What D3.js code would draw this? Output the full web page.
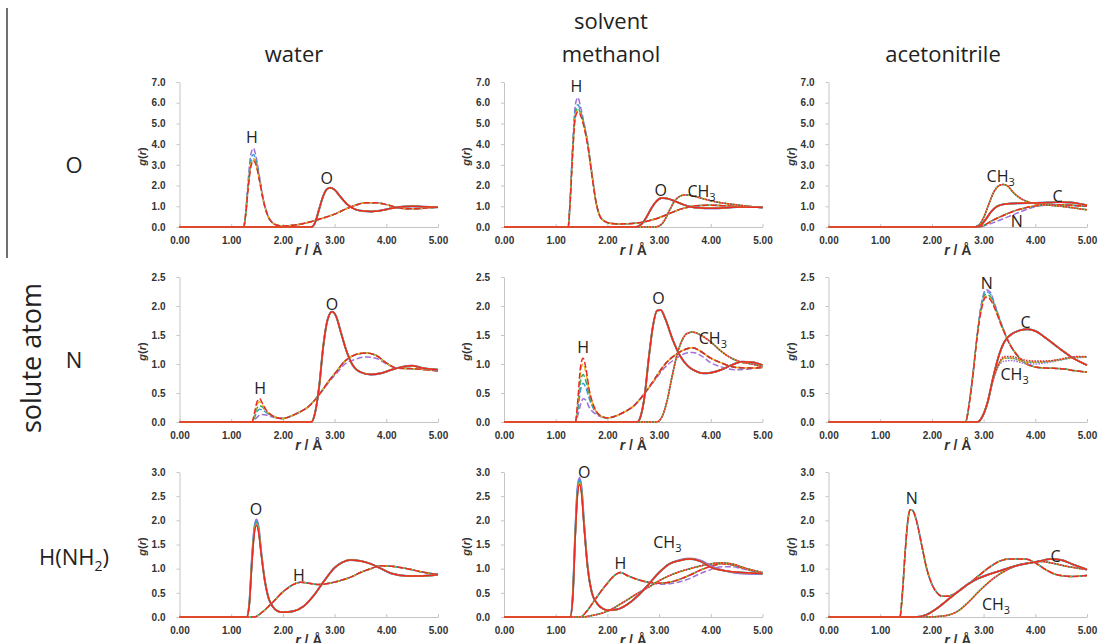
<!DOCTYPE html>
<html>
<head>
<meta charset="utf-8">
<script src="https://cdn.jsdelivr.net/npm/d3@7"></script>
<style>
  body { margin: 0; background: #fff; }
  svg { display: block; font-family: "Liberation Sans", Arial, sans-serif; }
  .axis .domain { stroke: #c4c4c4; }
  .axis .tick line { stroke: #c4c4c4; }
  .axis .tick text { font-size: 10px; font-weight: bold; fill: #333; }
  .big { font-family: "Open Sans", "Liberation Sans", sans-serif; font-size: 22px; fill: #222; }
  .note { font-family: "Open Sans", "Liberation Sans", sans-serif; font-size: 16px; fill: #222; }
</style>
</head>
<body>
<div id="chart"></div>
<script>
// column / row headings
var solvents = ["water", "methanol", "acetonitrile"];
var soluteAtoms = ["O", "N", "H(NH2)"];
var yMaxByRow = [7, 2.5, 3];
var yStepByRow = [1, 0.5, 0.5];
var xTicks = [0, 1, 2, 3, 4, 5];

// line colours: purple, blue, green, yellow, red (red is drawn on top)
var colors = ["#a070d8", "#3b9bdc", "#31a85e", "#f2b21b", "#e8282a"];

// ---- solute O / water ----
var rOwH = [0,1.24,1.28,1.33,1.38,1.43,1.48,1.55,1.62,1.70,1.80,1.92,2.05,2.2,2.4,2.6,2.8,3.0,3.2,3.4,3.6,3.8,4.0,4.2,4.4,4.6,4.8,5.0];
var gOwH = [
  [0,0,0.7,2.3,3.5,3.8,3.4,2.4,1.35,0.6,0.2,0.07,0.05,0.08,0.17,0.3,0.45,0.62,0.85,1.05,1.17,1.17,1.08,0.95,0.88,0.88,0.93,0.95],
  [0,0,0.65,2.1,3.25,3.5,3.2,2.3,1.3,0.6,0.2,0.07,0.05,0.08,0.17,0.3,0.45,0.62,0.85,1.05,1.17,1.17,1.08,0.95,0.88,0.88,0.93,0.95],
  [0,0,0.6,2.0,3.05,3.3,3.1,2.25,1.3,0.6,0.2,0.07,0.05,0.08,0.17,0.3,0.45,0.62,0.85,1.05,1.17,1.17,1.08,0.95,0.88,0.88,0.93,0.95],
  [0,0,0.6,1.95,3.0,3.28,3.05,2.2,1.3,0.6,0.2,0.07,0.05,0.08,0.17,0.3,0.45,0.62,0.85,1.05,1.17,1.17,1.08,0.95,0.88,0.88,0.93,0.95],
  [0,0,0.6,1.9,2.9,3.2,3.0,2.2,1.3,0.6,0.2,0.07,0.05,0.08,0.17,0.3,0.45,0.62,0.85,1.05,1.17,1.17,1.08,0.95,0.88,0.88,0.93,0.95]
];
var rOwO = [0,2.55,2.62,2.7,2.78,2.85,2.92,3.0,3.1,3.25,3.4,3.55,3.7,3.9,4.1,4.3,4.5,4.7,5.0];
var gOwO = [[0,0,0.2,0.85,1.5,1.82,1.9,1.8,1.5,1.08,0.85,0.77,0.75,0.8,0.9,0.98,1.0,0.98,0.95]];

// ---- solute O / methanol ----
var rOmH = [0,1.24,1.28,1.33,1.38,1.43,1.48,1.55,1.62,1.70,1.78,1.86,1.95,2.05,2.2,2.4,2.6,2.8,3.0,3.2,3.4,3.6,3.8,4.0,4.3,4.6,5.0];
var gOmH = [
  [0,0,1.4,4.0,5.9,6.25,5.8,5.0,4.05,2.6,1.2,0.5,0.27,0.18,0.15,0.16,0.2,0.3,0.45,0.65,0.85,0.98,1.04,1.05,1.02,0.98,0.95],
  [0,0,1.35,3.9,5.6,5.9,5.6,4.95,4.05,2.6,1.2,0.5,0.27,0.18,0.15,0.16,0.2,0.3,0.45,0.65,0.85,0.98,1.04,1.05,1.02,0.98,0.95],
  [0,0,1.3,3.8,5.45,5.72,5.5,4.9,4.0,2.55,1.2,0.5,0.27,0.18,0.15,0.16,0.2,0.3,0.45,0.65,0.85,0.98,1.04,1.05,1.02,0.98,0.95],
  [0,0,1.25,3.7,5.4,5.62,5.45,4.85,3.95,2.55,1.2,0.5,0.27,0.18,0.15,0.16,0.2,0.3,0.45,0.65,0.85,0.98,1.04,1.05,1.02,0.98,0.95],
  [0,0,1.2,3.6,5.3,5.55,5.4,4.8,3.9,2.5,1.2,0.5,0.27,0.18,0.15,0.16,0.2,0.3,0.45,0.65,0.85,0.98,1.04,1.05,1.02,0.98,0.95]
];
var rOmO = [0,2.55,2.65,2.75,2.85,2.95,3.05,3.15,3.3,3.45,3.6,3.8,4.0,4.3,4.6,5.0];
var gOmO = [[0,0,0.12,0.45,0.9,1.25,1.4,1.38,1.25,1.1,0.98,0.92,0.9,0.93,0.97,0.95]];
var rOmC = [0,2.9,3.0,3.1,3.2,3.3,3.4,3.5,3.6,3.8,4.0,4.2,4.5,4.8,5.0];
var gOmC = [[0,0,0.05,0.3,0.8,1.25,1.48,1.55,1.53,1.4,1.27,1.17,1.07,0.98,0.93]];

// ---- solute O / acetonitrile ----
var rOaC3 = [0,2.8,2.9,3.0,3.1,3.2,3.3,3.38,3.45,3.6,3.8,4.0,4.2,4.5,4.8,5.0];
var gOaC3 = [[0,0,0.08,0.45,1.1,1.7,2.0,2.05,2.0,1.6,1.27,1.13,1.07,1.0,0.9,0.83]];
var rOaC = [0,2.85,2.95,3.05,3.15,3.25,3.35,3.5,3.7,4.0,4.3,4.5,4.7,4.9,5.0];
var gOaC = [[0,0,0.1,0.4,0.75,0.98,1.08,1.13,1.15,1.16,1.18,1.2,1.18,1.1,1.05]];
var rOaN = [0,2.9,3.0,3.2,3.4,3.6,3.8,4.0,4.2,4.5,4.8,5.0];
var gOaNpurple = [0,0,0.05,0.22,0.42,0.62,0.82,0.98,1.05,1.07,1.03,1.0];
var gOaNrest = [0,0,0.08,0.35,0.58,0.78,0.92,1.02,1.07,1.07,1.03,1.0];

// ---- solute N / water ----
var rNwH = [0,1.4,1.45,1.5,1.55,1.6,1.68,1.78,1.9,2.0,2.15,2.3,2.5,2.7,2.9,3.0,3.2,3.4,3.6,3.8,4.0,4.2,4.5,4.8,5.0];
var gNwH = [
  [0,0,0.04,0.08,0.12,0.13,0.12,0.09,0.07,0.06,0.1,0.16,0.27,0.47,0.7,0.8,1.0,1.08,1.12,1.1,1.0,0.93,0.92,0.9,0.88],
  [0,0,0.08,0.18,0.22,0.21,0.16,0.11,0.07,0.06,0.1,0.16,0.27,0.47,0.72,0.83,1.05,1.16,1.19,1.15,1.02,0.93,0.92,0.9,0.88],
  [0,0,0.1,0.24,0.28,0.26,0.18,0.11,0.07,0.06,0.1,0.16,0.27,0.47,0.72,0.83,1.05,1.16,1.19,1.15,1.02,0.93,0.92,0.9,0.88],
  [0,0,0.13,0.3,0.35,0.3,0.19,0.12,0.07,0.06,0.1,0.16,0.27,0.47,0.72,0.83,1.05,1.16,1.19,1.15,1.02,0.93,0.92,0.9,0.88],
  [0,0,0.15,0.35,0.4,0.33,0.2,0.12,0.07,0.06,0.1,0.16,0.27,0.47,0.72,0.83,1.05,1.16,1.19,1.15,1.02,0.93,0.92,0.9,0.88]
];
var rNwO = [0,2.55,2.62,2.7,2.78,2.86,2.95,3.03,3.12,3.22,3.35,3.5,3.7,3.9,4.1,4.3,4.5,4.7,5.0];
var gNwO = [[0,0,0.15,0.6,1.3,1.75,1.9,1.82,1.55,1.25,0.98,0.86,0.82,0.84,0.9,0.95,0.97,0.93,0.9]];

// ---- solute N / methanol ----
var rNmH = [0,1.38,1.43,1.48,1.53,1.58,1.65,1.75,1.88,2.0,2.15,2.3,2.5,2.7,2.9,3.1,3.3,3.5,3.65,3.8,4.0,4.2,4.5,4.8,5.0];
var gNmH = [
  [0,0,0.12,0.3,0.4,0.38,0.25,0.15,0.09,0.07,0.1,0.16,0.27,0.47,0.7,0.93,1.08,1.18,1.2,1.15,1.02,0.95,0.9,0.92,0.94],
  [0,0,0.22,0.55,0.67,0.6,0.4,0.2,0.1,0.07,0.1,0.16,0.27,0.47,0.72,0.98,1.15,1.25,1.28,1.22,1.1,1.02,0.94,0.93,0.94],
  [0,0,0.28,0.7,0.82,0.72,0.45,0.22,0.1,0.07,0.1,0.16,0.27,0.47,0.72,0.98,1.15,1.25,1.28,1.22,1.1,1.02,0.94,0.93,0.94],
  [0,0,0.35,0.87,1.0,0.87,0.52,0.24,0.1,0.07,0.1,0.16,0.27,0.47,0.72,0.98,1.15,1.25,1.28,1.22,1.1,1.02,0.94,0.93,0.94],
  [0,0,0.4,0.95,1.1,0.95,0.55,0.25,0.1,0.07,0.1,0.16,0.27,0.47,0.72,0.98,1.15,1.25,1.28,1.22,1.1,1.02,0.94,0.93,0.94]
];
var rNmO = [0,2.58,2.65,2.72,2.8,2.88,2.96,3.03,3.12,3.25,3.4,3.55,3.7,3.85,4.0,4.2,4.4,4.6,4.8,5.0];
var gNmO = [[0,0,0.12,0.45,1.1,1.65,1.92,1.93,1.78,1.45,1.15,0.97,0.88,0.84,0.85,0.9,0.98,1.04,1.03,0.98]];
var rNmC = [0,2.95,3.05,3.15,3.25,3.35,3.45,3.55,3.65,3.8,4.0,4.2,4.4,4.6,4.8,5.0];
var gNmC = [[0,0,0.08,0.35,0.78,1.17,1.42,1.53,1.55,1.5,1.38,1.22,1.1,1.03,1.0,0.95]];

// ---- solute N / acetonitrile ----
var rNaN = [0,2.65,2.72,2.8,2.88,2.96,3.04,3.12,3.22,3.35,3.5,3.65,3.8,4.0,4.2,4.5,4.8,5.0];
var gNaN = [
  [0,0,0.32,0.88,1.55,2.05,2.28,2.25,2.02,1.68,1.36,1.15,1.02,0.95,0.93,0.92,0.88,0.86],
  [0,0,0.31,0.87,1.53,2.03,2.25,2.22,2.0,1.67,1.35,1.15,1.02,0.95,0.93,0.92,0.88,0.86],
  [0,0,0.3,0.86,1.52,2.0,2.2,2.17,1.98,1.66,1.35,1.15,1.02,0.95,0.93,0.92,0.88,0.86],
  [0,0,0.3,0.86,1.52,1.97,2.17,2.14,1.96,1.65,1.35,1.15,1.02,0.95,0.93,0.92,0.88,0.86],
  [0,0,0.3,0.85,1.5,1.95,2.15,2.12,1.95,1.65,1.35,1.15,1.02,0.95,0.93,0.92,0.88,0.86]
];
var rNaC = [0,2.88,2.98,3.08,3.18,3.28,3.4,3.55,3.7,3.85,4.0,4.2,4.45,4.7,5.0];
var gNaC = [[0,0,0.1,0.35,0.75,1.1,1.38,1.52,1.58,1.6,1.57,1.45,1.28,1.12,0.98]];
var rNaC3 = [0,2.88,2.98,3.08,3.18,3.28,3.4,3.55,3.7,3.85,4.0,4.2,4.45,4.7,4.85,5.0];
var gNaC3purple = [0,0,0.1,0.35,0.7,0.95,1.05,1.06,1.03,1.0,1.0,1.02,1.06,1.1,1.11,1.12];
var gNaC3mid = [0,0,0.1,0.35,0.72,0.97,1.1,1.1,1.06,1.03,1.03,1.04,1.07,1.11,1.12,1.12];
var gNaC3red = [0,0,0.1,0.35,0.72,0.98,1.13,1.13,1.09,1.06,1.05,1.05,1.08,1.12,1.13,1.13];

// ---- solute H(NH2) / water ----
var rHwO = [0,1.3,1.35,1.4,1.45,1.49,1.53,1.58,1.65,1.72,1.8,1.9,2.0,2.2,2.4,2.6,2.8,3.0,3.15,3.3,3.5,3.7,3.9,4.1,4.4,4.7,5.0];
var gHwO = [
  [0,0,0.28,1.2,1.87,2.02,1.87,1.35,0.76,0.4,0.22,0.12,0.1,0.12,0.22,0.45,0.75,1.02,1.13,1.18,1.16,1.1,1.0,0.9,0.85,0.85,0.88],
  [0,0,0.27,1.17,1.83,1.98,1.83,1.34,0.75,0.4,0.22,0.12,0.1,0.12,0.22,0.45,0.75,1.02,1.13,1.18,1.16,1.1,1.0,0.9,0.85,0.85,0.88],
  [0,0,0.26,1.15,1.8,1.95,1.8,1.33,0.75,0.4,0.22,0.12,0.1,0.12,0.22,0.45,0.75,1.02,1.13,1.18,1.16,1.1,1.0,0.9,0.85,0.85,0.88],
  [0,0,0.26,1.13,1.78,1.92,1.78,1.32,0.75,0.4,0.22,0.12,0.1,0.12,0.22,0.45,0.75,1.02,1.13,1.18,1.16,1.1,1.0,0.9,0.85,0.85,0.88],
  [0,0,0.25,1.1,1.75,1.9,1.75,1.3,0.75,0.4,0.22,0.12,0.1,0.12,0.22,0.45,0.75,1.02,1.13,1.18,1.16,1.1,1.0,0.9,0.85,0.85,0.88]
];
var rHwH = [0,1.45,1.6,1.8,2.0,2.2,2.35,2.5,2.7,2.9,3.1,3.3,3.5,3.7,3.9,4.1,4.4,4.7,5.0];
var gHwH = [[0,0,0.1,0.3,0.52,0.67,0.72,0.7,0.67,0.7,0.75,0.82,0.92,1.0,1.06,1.05,1.0,0.93,0.88]];

// ---- solute H(NH2) / methanol ----
var rHmO = [0,1.28,1.33,1.38,1.42,1.46,1.5,1.55,1.62,1.7,1.8,1.9,2.0,2.2,2.4,2.6,2.8,3.0,3.2,3.4,3.6,3.8,4.0,4.3,4.6,5.0];
var gHmO = [
  [0,0,0.45,1.8,2.65,2.88,2.68,1.92,1.03,0.5,0.28,0.18,0.14,0.16,0.27,0.45,0.68,0.92,1.1,1.18,1.21,1.17,1.06,0.95,0.9,0.89],
  [0,0,0.44,1.78,2.6,2.84,2.64,1.9,1.02,0.5,0.28,0.18,0.14,0.16,0.27,0.45,0.68,0.92,1.1,1.17,1.2,1.15,1.03,0.95,0.92,0.9],
  [0,0,0.43,1.75,2.55,2.8,2.6,1.88,1.0,0.5,0.28,0.18,0.14,0.16,0.27,0.45,0.68,0.92,1.1,1.17,1.2,1.15,1.03,0.95,0.92,0.9],
  [0,0,0.42,1.72,2.52,2.77,2.58,1.87,1.0,0.5,0.28,0.18,0.14,0.16,0.27,0.45,0.68,0.92,1.1,1.17,1.2,1.15,1.03,0.95,0.92,0.9],
  [0,0,0.4,1.7,2.5,2.74,2.55,1.85,1.0,0.5,0.28,0.18,0.14,0.16,0.27,0.45,0.68,0.92,1.1,1.17,1.2,1.15,1.03,0.95,0.92,0.9]
];
var rHmH = [0,1.48,1.6,1.8,2.0,2.15,2.25,2.4,2.6,2.8,3.0,3.2,3.4,3.6,3.8,4.0,4.2,4.4,4.6,5.0];
var gHmHpurple = [0,0,0.12,0.42,0.7,0.87,0.92,0.85,0.77,0.71,0.68,0.69,0.73,0.8,0.9,0.98,1.04,1.04,1.0,0.9];
var gHmHrest = [0,0,0.12,0.42,0.7,0.87,0.92,0.85,0.77,0.72,0.7,0.72,0.78,0.87,0.97,1.05,1.1,1.08,1.02,0.9];
var rHmC = [0,1.5,1.7,2.0,2.3,2.6,2.8,3.0,3.3,3.6,3.9,4.2,4.4,4.7,5.0];
var gHmC = [[0,0,0.03,0.12,0.3,0.5,0.62,0.75,0.9,1.0,1.08,1.12,1.1,1.0,0.92]];

// ---- solute H(NH2) / acetonitrile ----
var rHaN = [0,1.38,1.43,1.48,1.53,1.58,1.63,1.7,1.8,1.9,2.0,2.1,2.2,2.3,2.5,2.7,2.9,3.1,3.3,3.5,3.8,4.0,4.2,4.4,4.7,5.0];
var gHaN = [[0,0,0.5,1.3,1.95,2.22,2.2,2.0,1.5,1.0,0.68,0.5,0.43,0.43,0.52,0.68,0.85,1.02,1.15,1.2,1.2,1.12,0.98,0.88,0.84,0.86]];
var rHaC = [0,1.7,1.9,2.1,2.3,2.5,2.7,2.9,3.1,3.3,3.5,3.7,3.9,4.1,4.3,4.5,4.7,5.0];
var gHaC = [[0,0,0.05,0.18,0.35,0.52,0.68,0.8,0.88,0.95,1.02,1.08,1.12,1.16,1.2,1.18,1.1,0.98]];
var rHaC3 = [0,1.9,2.2,2.5,2.7,2.9,3.1,3.3,3.5,3.7,3.9,4.1,4.3,4.6,5.0];
var gHaC3 = [[0,0,0.02,0.12,0.3,0.52,0.72,0.88,1.0,1.08,1.12,1.15,1.12,1.05,0.98]];

// site labels inside each panel: [text, r, g]
var notes = [
  [["H", 1.4, 4.35], ["O", 2.85, 2.35]],
  [["H", 1.4, 6.8], ["O", 3.03, 1.8], ["CH3", 3.82, 1.72]],
  [["CH3", 3.33, 2.46], ["C", 4.43, 1.5], ["N", 3.64, 0.3]],
  [["H", 1.56, 0.58], ["O", 2.95, 2.04]],
  [["H", 1.53, 1.29], ["O", 2.99, 2.14], ["CH3", 4.04, 1.45]],
  [["N", 3.06, 2.4], ["C", 3.81, 1.73], ["CH3", 3.6, 0.82]],
  [["O", 1.48, 2.24], ["H", 2.31, 0.87]],
  [["O", 1.55, 3.0], ["H", 2.25, 1.12], ["CH3", 3.16, 1.55]],
  [["N", 1.61, 2.46], ["C", 4.39, 1.26], ["CH3", 3.24, 0.27]]
];

// panels in reading order: [style, r, g-variants]
var panels = [
  [["dash", rOwH, gOwH], ["solid", rOwO, gOwO]],
  [["dash", rOmH, gOmH], ["dot", rOmC, gOmC], ["solid", rOmO, gOmO]],
  [["dash", rOaN, [gOaNpurple, gOaNrest, gOaNrest, gOaNrest, gOaNrest]], ["dot", rOaC3, gOaC3], ["solid", rOaC, gOaC]],
  [["dash", rNwH, gNwH], ["solid", rNwO, gNwO]],
  [["dash", rNmH, gNmH], ["dot", rNmC, gNmC], ["solid", rNmO, gNmO]],
  [["dash", rNaN, gNaN], ["dot", rNaC3, [gNaC3purple, gNaC3mid, gNaC3mid, gNaC3mid, gNaC3red]], ["solid", rNaC, gNaC]],
  [["dash", rHwH, gHwH], ["solid", rHwO, gHwO]],
  [["dash", rHmH, [gHmHpurple, gHmHrest, gHmHrest, gHmHrest, gHmHrest]], ["dot", rHmC, gHmC], ["solid", rHmO, gHmO]],
  [["dash", rHaN, gHaN], ["dot", rHaC3, gHaC3], ["solid", rHaC, gHaC]]
];

// layout
var svgWidth = 1099, svgHeight = 643;
var colLeft = [179.5, 504, 828.5];
var rowBottom = [227, 422, 617];
var plotW = 258.5, plotH = 145;

var svg = d3.select("#chart").append("svg")
  .attr("width", svgWidth)
  .attr("height", svgHeight);

// headings
var titleX = [294, 611, 943];
svg.append("text").attr("class", "big").attr("x", titleX[1]).attr("y", 29)
  .attr("text-anchor", "middle").text("solvent");
solvents.forEach(function(s, i) {
  svg.append("text").attr("class", "big").attr("x", titleX[i]).attr("y", 62)
    .attr("text-anchor", "middle").text(s);
});

var rowLabelY = [173, 368, 565];
soluteAtoms.forEach(function(a, i) {
  var t = svg.append("text").attr("class", "big").attr("x", 74).attr("y", rowLabelY[i])
    .attr("text-anchor", "middle");
  if (a === "H(NH2)") {
    t.append("tspan").text("H(NH");
    t.append("tspan").attr("font-size", "14px").attr("dy", 6).text("2");
    t.append("tspan").attr("dy", -6).text(")");
  } else {
    t.text(a);
  }
});

svg.append("text").attr("class", "big")
  .attr("transform", "translate(41,358) rotate(-90)")
  .attr("text-anchor", "middle")
  .style("font-size", "27px")
  .text("solute atom");

svg.append("line").attr("x1", 7).attr("x2", 7).attr("y1", 8).attr("y2", 258)
  .attr("stroke", "#111").attr("stroke-width", 1.2);

var dashFor = { solid: null, dash: "6,2.5", dot: "1.6,1.2" };

panels.forEach(function(sites, p) {
  var row = Math.floor(p / 3), col = p % 3;
  var x0 = colLeft[col], yb = rowBottom[row];
  var yMax = yMaxByRow[row];

  var x = d3.scaleLinear().domain([0, 5]).range([x0, x0 + plotW]);
  var y = d3.scaleLinear().domain([0, yMax]).range([yb, yb - plotH]);

  var g = svg.append("g");

  g.append("g").attr("class", "axis")
    .attr("transform", "translate(" + x0 + ",0)")
    .call(d3.axisLeft(y)
      .tickValues(d3.range(0, yMax + 0.001, yStepByRow[row]))
      .tickFormat(d3.format(".1f"))
      .tickSizeInner(3).tickSizeOuter(0).tickPadding(11));

  g.append("g").attr("class", "axis")
    .attr("transform", "translate(0," + yb + ")")
    .call(d3.axisBottom(x)
      .tickValues(xTicks)
      .tickFormat(d3.format(".2f"))
      .tickSizeInner(-3).tickSizeOuter(0).tickPadding(10));

  // axis titles
  var xl = g.append("text")
    .attr("x", x0 + plotW / 2).attr("y", yb + 28)
    .attr("text-anchor", "middle")
    .attr("font-size", "14px").attr("font-weight", "bold").attr("fill", "#333");
  xl.append("tspan").attr("font-style", "italic").text("r");
  xl.append("tspan").text(" / Å");

  var yl = g.append("text")
    .attr("transform", "translate(" + (x0 - 34) + "," + (yb - plotH / 2 + 2) + ") rotate(-90)")
    .attr("text-anchor", "middle")
    .attr("font-size", "11px").attr("font-weight", "bold").attr("fill", "#333");
  yl.append("tspan").attr("font-style", "italic").text("g");
  yl.append("tspan").text("(");
  yl.append("tspan").attr("font-style", "italic").text("r");
  yl.append("tspan").text(")");

  var line = d3.line()
    .x(function(d) { return x(d[0]); })
    .y(function(d) { return y(d[1]); })
    .curve(d3.curveMonotoneX);

  sites.forEach(function(site) {
    var style = site[0], rs = site[1], gs = site[2];
    colors.forEach(function(c, i) {
      var gv = gs.length === 1 ? gs[0] : gs[i];
      var pts = rs.map(function(r, k) { return [r, gv[k]]; });
      var w = style === "solid" ? (i < 2 ? 1.9 : 1.5) : 1.5;
      g.append("path")
        .datum(pts)
        .attr("fill", "none")
        .attr("stroke", c)
        .attr("stroke-width", w)
        .attr("stroke-dasharray", dashFor[style])
        .attr("stroke-dashoffset", style === "dot" ? i * 0.7 : i * 1.1)
        .attr("d", line);
    });
  });

  notes[p].forEach(function(n) {
    var t = g.append("text").attr("class", "note")
      .attr("x", x(n[1])).attr("y", y(n[2]))
      .attr("text-anchor", "middle")
      .attr("dominant-baseline", "central");
    if (n[0] === "CH3") {
      t.append("tspan").text("CH");
      t.append("tspan").attr("font-size", "11px").attr("dy", 5).text("3");
    } else {
      t.text(n[0]);
    }
  });
});
</script>
</body>
</html>
